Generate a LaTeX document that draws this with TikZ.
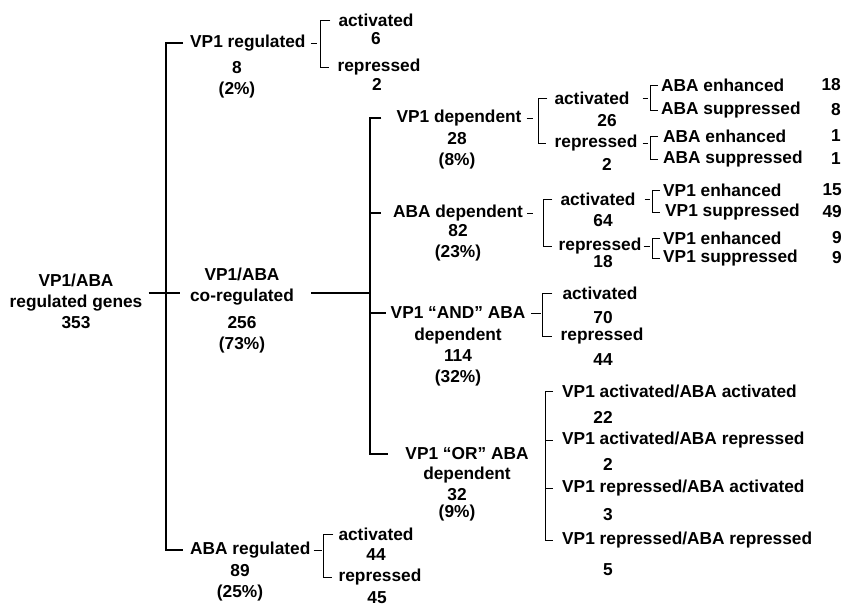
\documentclass[tikz,border=0pt]{standalone}
\usepackage{fontspec}
\setmainfont{Liberation Sans}
\usetikzlibrary{positioning}
\tikzset{
  every node/.style={font=\bfseries\fontsize{17.3}{21}\selectfont, inner sep=1pt, align=center},
  % Linien
  trunk/.style={line width=1.8pt},
  stem/.style={line width=1.3pt},
  brace/.style={line width=1pt},
  % Ausrichtung
  lft/.style={anchor=west},
  rgt/.style={anchor=east},
}

\begin{document}
\begin{tikzpicture}[x=1pt,y=-1pt]
  \useasboundingbox (0,0) rectangle (846,608);
  % Wurzel
  \node (root) at (76,293) {VP1/ABA\\regulated genes};
  \node (rootn) at (76,323) {353};
  % erste Ebene
  \node[lft] (vr) at (189,43) {VP1 regulated};
  \node (vrn) at (237,80) {8\\(2\%)};
  \node (co) at (242,287) {VP1/ABA\\co-regulated};
  \node (con) at (242,335) {256\\(73\%)};
  \node[lft] (ar) at (189,550) {ABA regulated};
  \node (arn) at (240,583) {89\\(25\%)};
  \coordinate (s1) at (166,0);
  \coordinate (s2) at (370,0);
  \draw[trunk, shorten <=6pt, shorten >=6pt] (vr.west) -| (s1 |- ar.west) -- (ar.west);
  \draw[stem, shorten <=5pt, shorten >=9pt] (root.east) -- (root.east -| co.west);
  \draw[stem, shorten <=16pt] (co.east |- root.east) -- (s2 |- root.east);
  % VP1 reguliert
  \node (va) at (376,20) {activated};
  \node (van) at (376,39) {6};
  \node (vp) at (379,67) {repressed};
  \node (vpn) at (377,84) {2};
  \coordinate (sr) at (320,0);
  \draw[brace, shorten <=4pt, shorten >=3pt] (vr.east) -- (vr.east -| sr);
  \draw[brace, shorten <=7pt, shorten >=7pt] (va.west) -| (sr |- vp.west) -- (vp.west);
  % ABA reguliert
  \node (ra) at (376,534) {activated};
  \node (ran) at (376,555) {44};
  \node (rp) at (380,577) {repressed};
  \node (rpn) at (377,598) {45};
  \coordinate (sb) at (323,0);
  \draw[brace, shorten <=2pt, shorten >=1pt] (ar.east) -- (ar.east -| sb);
  \draw[brace, shorten <=4pt, shorten >=5pt] (ra.west) -| (sb |- rp.west) -- (rp.west);
  % zweite Ebene
  \node (vd) at (459,118) {VP1 dependent};
  \node (vdn) at (457,151) {28\\(8\%)};
  \node (ad) at (458,213) {ABA dependent};
  \node (adn) at (458,243) {82\\(23\%)};
  \node (nd) at (458,313) {VP1 “AND” ABA};
  \node (ndn) at (458,357) {dependent\\114\\(32\%)};
  \node (od) at (467,454) {VP1 “OR” ABA};
  \node (odd) at (467,475) {dependent};
  \node (odn) at (457,505) {32\\[-4pt](9\%)};
  \draw[stem, shorten <=14pt, shorten >=16pt] (vd.west) -| (s2 |- od.west) -- (od.west);
  \draw[stem, shorten >=11pt] (s2 |- ad.west) -- (ad.west);
  \draw[stem, shorten >=4pt] (s2 |- nd.west) -- (nd.west);
  % VP1 abhaengig
  \node (va2) at (592,98) {activated};
  \node (va2n) at (607,121) {26};
  \node (vp2) at (596,143) {repressed};
  \node (vp2n) at (607,164) {2};
  \coordinate (s3) at (538,0);
  \draw[brace, shorten <=4pt, shorten >=5pt] (vd.east) -- (vd.east -| s3);
  \draw[brace, shorten <=6pt, shorten >=7pt] (va2.west) -| (s3 |- vp2.west) -- (vp2.west);
  \node[lft] (e1) at (660,85) {ABA enhanced};
  \node[rgt] (e1n) at (842,85) {18};
  \node[lft] (u1) at (660,110) {ABA suppressed};
  \node[rgt] (u1n) at (842,110) {8};
  \node[lft] (e2) at (662,136) {ABA enhanced};
  \node[rgt] (e2n) at (842,136) {1};
  \node[lft] (u2) at (662,159) {ABA suppressed};
  \node[rgt] (u2n) at (842,159) {1};
  \coordinate (sv) at (650,0);
  \draw[brace, shorten <=12pt, shorten >=2pt] (va2.east) -- (va2.east -| sv);
  \draw[brace, shorten <=4pt, shorten >=2pt] (vp2.east) -- (vp2.east -| sv);
  \draw[brace, shorten <=2pt, shorten >=2pt] (e1.west) -| (sv |- u1.west) -- (u1.west);
  \draw[brace, shorten <=4pt, shorten >=4pt] (e2.west) -| (sv |- u2.west) -- (u2.west);
  % ABA abhaengig
  \node (aa) at (598,199) {activated};
  \node (aan) at (603,221) {64};
  \node (ap) at (600,246) {repressed};
  \node (apn) at (603,262) {18};
  \coordinate (s4) at (543,0);
  \draw[brace, shorten <=3pt, shorten >=10pt] (ad.east) -- (ad.east -| s4);
  \draw[brace, shorten <=7pt, shorten >=5pt] (aa.west) -| (s4 |- ap.west) -- (ap.west);
  \node[lft] (e3) at (662,190) {VP1 enhanced};
  \node[rgt] (e3n) at (843,190) {15};
  \node[lft] (u3) at (664,212) {VP1 suppressed};
  \node[rgt] (u3n) at (843,212) {49};
  \node[lft] (e4) at (662,238) {VP1 enhanced};
  \node[rgt] (e4n) at (843,238) {9};
  \node[lft] (u4) at (662,258) {VP1 suppressed};
  \node[rgt] (u4n) at (843,258) {9};
  \coordinate (sw) at (652,0);
  \draw[brace, shorten <=8pt, shorten >=2pt] (aa.east) -- (aa.east -| sw);
  \draw[brace, shorten <=1pt, shorten >=2pt] (ap.east) -- (ap.east -| sw);
  \draw[brace, shorten <=2pt, shorten >=4pt] (e3.west) -| (sw |- u3.west) -- (u3.west);
  \draw[brace, shorten <=2pt, shorten >=2pt] (e4.west) -| (sw |- u4.west) -- (u4.west);
  % VP1 UND ABA
  \node (na) at (600,293) {activated};
  \node (nan) at (603,318) {70};
  \node (np) at (602,336) {repressed};
  \node (npn) at (603,360) {44};
  \coordinate (s5) at (542,0);
  \draw[brace, shorten <=5pt, shorten >=1pt] (nd.east) -- (nd.east -| s5);
  \draw[brace, shorten <=9pt, shorten >=7pt] (na.west) -| (s5 |- np.west) -- (np.west);
  % VP1 ODER ABA
  \node[lft] (o1) at (561,391) {VP1 activated/ABA activated};
  \node (o1n) at (603,417) {22};
  \node[lft] (o2) at (561,440) {VP1 activated/ABA repressed};
  \node (o2n) at (608,464) {2};
  \node[lft] (o3) at (561,488) {VP1 repressed/ABA activated};
  \node (o3n) at (608,515) {3};
  \node[lft] (o4) at (561,540) {VP1 repressed/ABA repressed};
  \node (o4n) at (608,570) {5};
  \coordinate (s6) at (545,0);
  \draw[brace, shorten <=8pt, shorten >=8pt] (o1.west) -| (s6 |- o4.west) -- (o4.west);
  \draw[brace, shorten >=8pt] (s6 |- o2.west) -- (o2.west);
  \draw[brace, shorten >=8pt] (s6 |- o3.west) -- (o3.west);
\end{tikzpicture}
\end{document}
